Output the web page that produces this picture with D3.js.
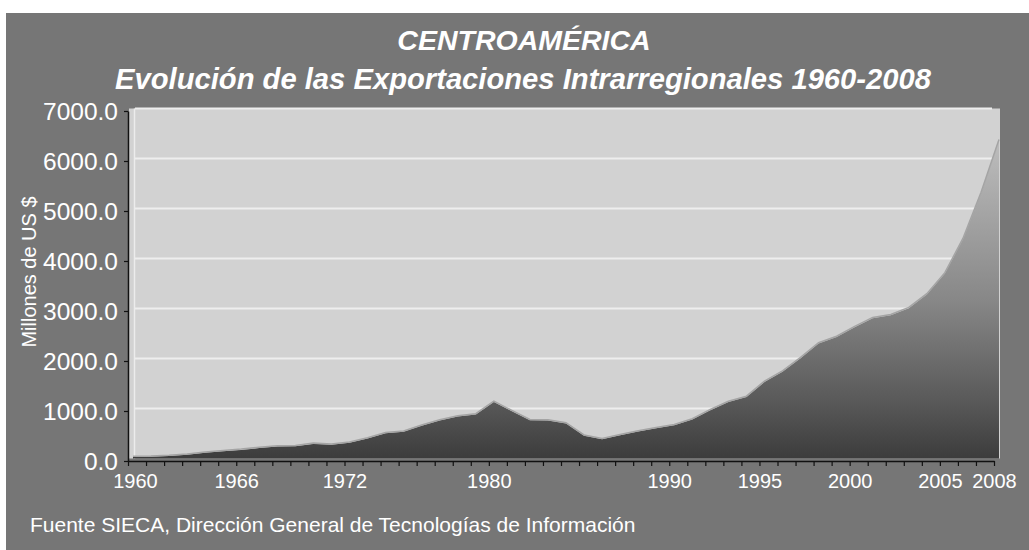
<!DOCTYPE html>
<html>
<head>
<meta charset="utf-8">
<script src="https://cdn.jsdelivr.net/npm/d3@7"></script>
<style>
  body { margin: 0; background: #fff; }
  text { font-family: "Liberation Sans", Arial, sans-serif; fill: #fff; }
</style>
</head>
<body>
<svg id="chart" width="1029" height="550"></svg>
<script>
// Exportaciones intrarregionales, millones de US $
const years = [1960, 1961, 1962, 1963, 1964, 1965, 1966, 1967, 1968, 1969,
  1970, 1971, 1972, 1973, 1974, 1975, 1976, 1977, 1978, 1979,
  1980, 1981, 1982, 1983, 1984, 1985, 1986, 1987, 1988, 1989,
  1990, 1991, 1992, 1993, 1994, 1995, 1996, 1997, 1998, 1999,
  2000, 2001, 2002, 2003, 2004, 2005, 2006, 2007, 2008];
const exportsValues = [28, 35, 50, 75, 115, 145, 172, 208, 240, 245,
  292, 275, 315, 400, 505, 535, 655, 760, 840, 880,
  1130, 945, 765, 760, 700, 455, 385, 465, 540, 605,
  665, 780, 965, 1130, 1230, 1530, 1735, 2005, 2300, 2430,
  2625, 2805, 2865, 3005, 3280, 3700, 4385, 5305, 6365];
const xTickYears = [1960, 1966, 1972, 1980, 1990, 1995, 2000, 2005, 2008];
const yTicks = [0, 1000, 2000, 3000, 4000, 5000, 6000, 7000];

const svg = d3.select("#chart");

svg.append("rect")
  .attr("x", 6).attr("y", 13)
  .attr("width", 1023).attr("height", 537)
  .attr("fill", "#767676");

// front scales for the axes, back scales for the series (3d depth offset)
const x = d3.scaleLinear().domain([1960, 2008]).range([128, 994]);
const y = d3.scaleLinear().domain([0, 7000]).range([461, 111]);
const depth = { dx: 5, dy: -2.5 };
const xs = x.copy().range(x.range().map(v => v + depth.dx));
const ys = y.copy().range(y.range().map(v => v + depth.dy));

// plot background + back wall
svg.append("rect")
  .attr("x", x(1960) + 1)
  .attr("y", ys(7000))
  .attr("width", xs(2008) + 1 - x(1960) - 1)
  .attr("height", ys(0) - ys(7000))
  .attr("fill", "#d2d2d2");
svg.append("line")
  .attr("x1", xs(1960) + 1.5).attr("x2", xs(1960) + 1.5)
  .attr("y1", ys(7000)).attr("y2", ys(0))
  .attr("stroke", "#ececec").attr("stroke-width", 1.5);

svg.append("g")
  .selectAll("line")
  .data(yTicks.slice(1))
  .join("line")
  .attr("x1", xs(1960) + 2)
  .attr("x2", xs(2008) - 7)
  .attr("y1", d => ys(d))
  .attr("y2", d => ys(d))
  .attr("stroke", "#eeeeee")
  .attr("stroke-width", 2);

// area gradient
const grad = svg.append("defs").append("linearGradient")
  .attr("id", "areaGrad")
  .attr("gradientUnits", "userSpaceOnUse")
  .attr("x1", 0).attr("x2", 0)
  .attr("y1", ys(7000)).attr("y2", ys(0));
[[0, "#c8c8c8"], [0.1, "#bcbcbc"], [0.55, "#878787"], [0.83, "#5a5a5a"], [1, "#3c3c3c"]]
  .forEach(s => grad.append("stop").attr("offset", s[0]).attr("stop-color", s[1]));

const area = d3.area()
  .x((d, i) => xs(years[i]))
  .y0(ys(0))
  .y1(d => ys(d));

svg.append("path")
  .datum(exportsValues)
  .attr("fill", "url(#areaGrad)")
  .attr("d", area);

const line = d3.line()
  .x((d, i) => xs(years[i]))
  .y(d => ys(d));

svg.append("path")
  .datum(exportsValues)
  .attr("fill", "none")
  .attr("stroke", "#a4a4a4")
  .attr("stroke-width", 1.5)
  .attr("transform", "translate(0,-0.8)")
  .attr("d", line);

// axes
const yAxis = svg.append("g")
  .attr("transform", "translate(" + x(1960) + ",0)")
  .call(d3.axisLeft(y).tickValues(yTicks).tickSize(4).tickPadding(6)
    .tickSizeOuter(0).tickFormat(d3.format(".1f")));
yAxis.selectAll("text").style("font-size", "24.5px").attr("dy", "0.36em");

const xAxis = svg.append("g")
  .attr("transform", "translate(0," + y(0) + ")")
  .call(d3.axisBottom(x).tickValues(years).tickSize(5).tickPadding(8)
    .tickSizeOuter(0).tickFormat(d => xTickYears.includes(d) ? d : ""));
xAxis.selectAll("text").style("font-size", "20px");
xAxis.selectAll(".tick").filter(d => d === 1960).select("text").attr("dx", 7);

svg.selectAll(".domain").attr("stroke", "#111").attr("stroke-width", 1.5);
svg.selectAll(".tick line").attr("stroke", "#111").attr("stroke-width", 1.2);
svg.selectAll(".tick text").attr("fill", "#fff");

// texts
svg.append("text")
  .attr("x", 524).attr("y", 50)
  .attr("text-anchor", "middle")
  .style("font-size", "28.5px").style("font-weight", "bold").style("font-style", "italic")
  .text("CENTROAMÉRICA");

svg.append("text")
  .attr("x", 523).attr("y", 89)
  .attr("text-anchor", "middle")
  .style("font-size", "29.2px").style("font-weight", "bold").style("font-style", "italic")
  .text("Evolución de las Exportaciones Intrarregionales 1960-2008");

svg.append("text")
  .attr("transform", "translate(36,272) rotate(-90)")
  .attr("text-anchor", "middle")
  .style("font-size", "20px")
  .text("Millones de US $");

svg.append("text")
  .attr("x", 30).attr("y", 532)
  .style("font-size", "21px")
  .text("Fuente SIECA, Dirección General de Tecnologías de Información");
</script>
</body>
</html>
